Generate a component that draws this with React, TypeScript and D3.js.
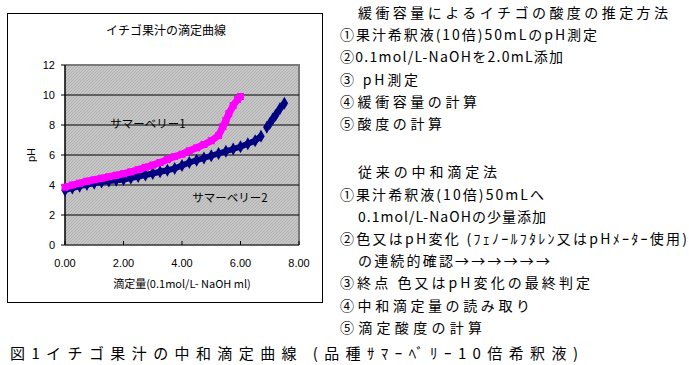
import React from 'react';
import * as d3 from 'd3';

// titrant volume (ml) and pH
const volume1 = [0, 0.25, 0.5, 0.75, 1.0, 1.25, 1.5, 1.75, 2.0, 2.25, 2.5, 2.75, 3.0, 3.25, 3.5, 3.75, 4.0, 4.25, 4.5, 4.75, 5.0, 5.25, 5.4, 5.5, 5.6, 5.75, 5.9, 6.0];
const ph1 = [3.85, 4.0, 4.12, 4.25, 4.35, 4.45, 4.55, 4.65, 4.75, 4.88, 5.02, 5.18, 5.33, 5.5, 5.7, 5.9, 6.05, 6.28, 6.48, 6.7, 6.95, 7.3, 7.9, 8.3, 8.75, 9.3, 9.7, 9.9];

// NaN marks the break in the second curve
const volume2 = [0, 0.25, 0.5, 0.75, 1.0, 1.25, 1.5, 1.75, 2.0, 2.25, 2.5, 2.75, 3.0, 3.25, 3.5, 3.75, 4.0, 4.25, 4.5, 4.75, 5.0, 5.25, 5.5, 5.75, 6.0, 6.25, 6.5, 6.7, NaN, 6.9, 7.0, 7.1, 7.2, 7.35, 7.5];
const ph2 = [3.65, 3.8, 3.92, 4.03, 4.12, 4.2, 4.27, 4.32, 4.37, 4.47, 4.57, 4.67, 4.77, 4.88, 4.98, 5.1, 5.3, 5.5, 5.65, 5.8, 5.95, 6.1, 6.25, 6.4, 6.55, 6.75, 6.95, 7.25, NaN, 7.85, 8.1, 8.4, 8.65, 9.1, 9.45];

const yTicks = [0, 2, 4, 6, 8, 10, 12];
const xTicks = [0, 2, 4, 6, 8];

const chartTitle = 'イチゴ果汁の滴定曲線';
const xTitle = '滴定量(0.1mol/L- NaOH ml)';
const yTitle = 'pH';
const seriesNames = ['サマーベリー1', 'サマーベリー2'];

// right-hand notes: text, indent, width
const notes: [string, number, number][] = [
  ['緩衝容量によるイチゴの酸度の推定方法', 18, 310],
  ['①果汁希釈液(10倍)50mLのpH測定', 0, 257],
  ['②0.1mol/L-NaOHを2.0mL添加', 0, 223],
  ['③ pH測定', 0, 78],
  ['④緩衝容量の計算', 0, 137],
  ['⑤酸度の計算', 0, 102],
  ['', 0, 0],
  ['従来の中和滴定法', 18, 139],
  ['①果汁希釈液(10倍)50mLへ', 0, 204],
  ['0.1mol/L-NaOHの少量添加', 18, 188],
  ['②色又はpH変化 (ﾌｪﾉｰﾙﾌﾀﾚﾝ又はpHﾒｰﾀｰ使用)', 0, 347],
  ['の連続的確認→→→→→→', 18, 192],
  ['③終点 色又はpH変化の最終判定', 0, 250],
  ['④中和滴定量の読み取り', 0, 190],
  ['⑤滴定酸度の計算', 0, 142],
];
const caption = '図1イチゴ果汁の中和滴定曲線 (品種ｻﾏｰﾍﾞﾘｰ10倍希釈液)';

const W = 689;
const H = 365;
const plot = { left: 65, right: 299, top: 65, bottom: 245 };
const sans = 'Arial, "Liberation Sans", "Noto Sans CJK JP", sans-serif';
const jp = '"Noto Sans CJK JP", sans-serif';

export default function App() {
  const x = d3.scaleLinear().domain([0, 8]).range([plot.left, plot.right]);
  const y = d3.scaleLinear().domain([0, 12]).range([plot.bottom, plot.top]);

  const pts1 = volume1.map((v, i) => [v, ph1[i]] as [number, number]);
  const pts2 = volume2.map((v, i) => [v, ph2[i]] as [number, number]);

  const line = d3
    .line<[number, number]>()
    .defined((d) => !isNaN(d[0]))
    .x((d) => x(d[0]))
    .y((d) => y(d[1]));

  const diamond = d3.symbol(d3.symbolDiamond, 48)();

  return (
    <svg width={W} height={H} style={{ position: 'absolute', left: 0, top: 0, background: '#fff' }}>
      <defs>
        <pattern id="hatch" width="3" height="3" patternUnits="userSpaceOnUse">
          <rect width="3" height="3" fill="#c6c6c6" />
          <path d="M0,3 L3,0" stroke="#b2b2b2" strokeWidth="1" />
        </pattern>
        <clipPath id="plotClip">
          <rect x={plot.left - 4} y={plot.top} width={plot.right - plot.left + 4} height={plot.bottom - plot.top} />
        </clipPath>
      </defs>

      {/* chart frame */}
      <rect x={7.5} y={13.5} width={315} height={289} fill="#fff" stroke="#000" strokeWidth={1} />
      <text x={166} y={29} textAnchor="middle" dominantBaseline="central" fontFamily={jp} fontSize={12}>
        {chartTitle}
      </text>

      {/* plot background */}
      <rect x={plot.left} y={plot.top} width={plot.right - plot.left} height={plot.bottom - plot.top} fill="url(#hatch)" />
      <path d={`M${plot.left},${plot.top}H${plot.right}V${plot.bottom}`} fill="none" stroke="#7a7a7a" strokeWidth={2} />

      {yTicks.filter((t) => t > 0 && t < 12).map((t) => (
        <line key={t} x1={plot.left} x2={plot.right} y1={y(t)} y2={y(t)} stroke="#000" strokeWidth={1} />
      ))}

      {/* axes */}
      <line x1={plot.left} x2={plot.left} y1={plot.top} y2={plot.bottom} stroke="#000" strokeWidth={1.5} />
      <line x1={plot.left} x2={plot.right} y1={plot.bottom} y2={plot.bottom} stroke="#333" strokeWidth={1.5} />
      {yTicks.map((t) => (
        <g key={t}>
          <line x1={plot.left - 4} x2={plot.left} y1={y(t)} y2={y(t)} stroke="#000" />
          <text x={55} y={y(t)} textAnchor="end" dominantBaseline="central" fontFamily={sans} fontSize={11}>
            {t}
          </text>
        </g>
      ))}
      {xTicks.map((t) => (
        <g key={t}>
          <line x1={x(t)} x2={x(t)} y1={plot.bottom} y2={plot.bottom - 4} stroke="#000" />
          <text x={x(t)} y={263} textAnchor="middle" dominantBaseline="central" fontFamily={sans} fontSize={11}>
            {t.toFixed(2)}
          </text>
        </g>
      ))}
      <text x={182} y={283} textAnchor="middle" dominantBaseline="central" fontFamily={jp} fontSize={11}>
        {xTitle}
      </text>
      <text transform="translate(31,155) rotate(-90)" textAnchor="middle" dominantBaseline="central" fontFamily={sans} fontSize={11}>
        {yTitle}
      </text>

      {/* series */}
      <g clipPath="url(#plotClip)">
        <path d={line(pts2) || ''} fill="none" stroke="#000080" strokeWidth={6} />
        {pts2.filter((d) => !isNaN(d[0])).map((d, i) => (
          <path key={i} d={diamond || ''} transform={`translate(${x(d[0])},${y(d[1])})`} fill="#000080" />
        ))}
        <path d={line(pts1) || ''} fill="none" stroke="#ff00ff" strokeWidth={7} />
        {pts1.map((d, i) => (
          <rect key={i} x={x(d[0]) - 3.5} y={y(d[1]) - 3.5} width={7} height={7} fill="#ff00ff" />
        ))}
      </g>

      <text x={148} y={123} textAnchor="middle" dominantBaseline="central" fontFamily={jp} fontSize={11.5}>
        {seriesNames[0]}
      </text>
      <text x={230} y={197} textAnchor="middle" dominantBaseline="central" fontFamily={jp} fontSize={11.5}>
        {seriesNames[1]}
      </text>

      {/* notes */}
      {notes.map(([t, indent, w], i) =>
        t ? (
          <text
            key={i}
            x={340 + indent}
            y={12 + i * 22.2 + (i > 6 ? 4 : 0)}
            dominantBaseline="central"
            fontFamily={jp}
            fontSize={14}
            textLength={w}
            lengthAdjust="spacing"
          >
            {t}
          </text>
        ) : null
      )}
      <text x={10} y={352} dominantBaseline="central" fontFamily={jp} fontSize={15} textLength={568} lengthAdjust="spacing">
        {caption}
      </text>
    </svg>
  );
}
